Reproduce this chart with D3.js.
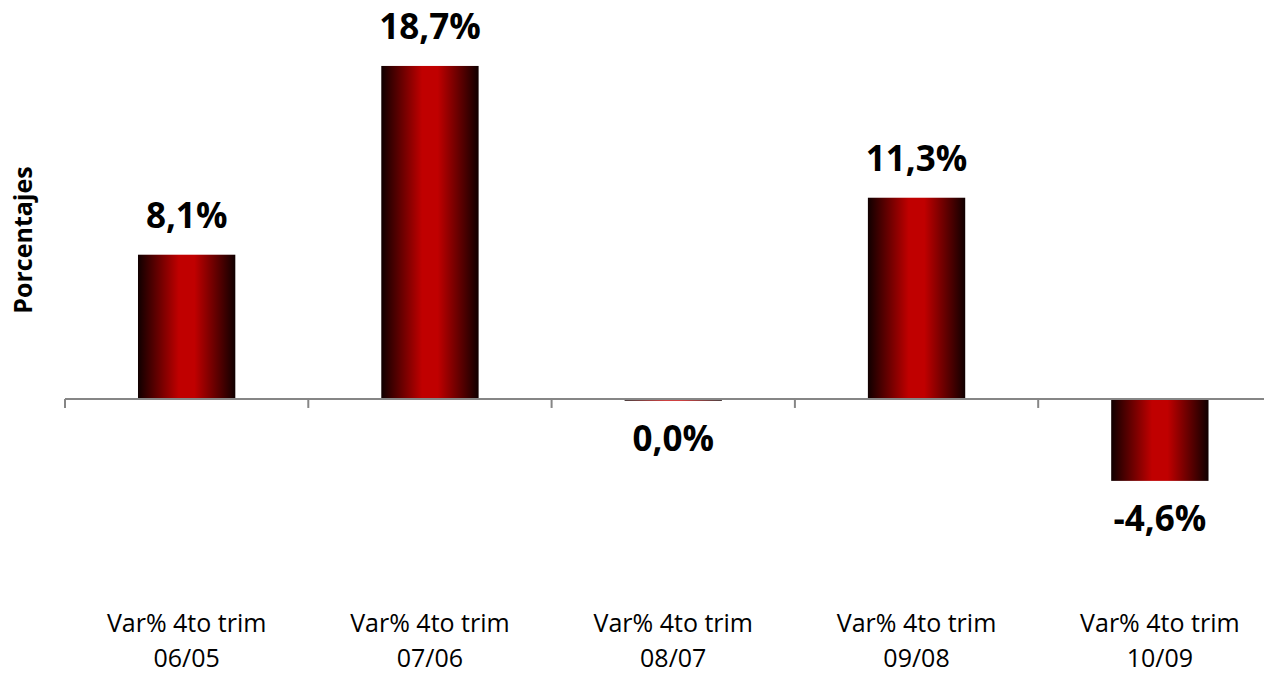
<!DOCTYPE html>
<html>
<head>
<meta charset="utf-8">
<script src="https://cdn.jsdelivr.net/npm/d3@7/dist/d3.min.js"></script>
<style>
  html, body { margin: 0; padding: 0; background: #fff; overflow: hidden; }
  svg { display: block; }
  text { font-family: "Open Sans", "Noto Sans", sans-serif; }
</style>
</head>
<body>
<svg id="chart" width="1264" height="673"></svg>
<script>
const categoriesLine1 = ["Var% 4to trim", "Var% 4to trim", "Var% 4to trim", "Var% 4to trim", "Var% 4to trim"];
const categoriesLine2 = ["06/05", "07/06", "08/07", "09/08", "10/09"];
const values = [8.1, 18.7, -0.1, 11.3, -4.6];
const valueLabels = ["8,1%", "18,7%", "0,0%", "11,3%", "-4,6%"];
const yTitle = "Porcentajes";

const svg = d3.select("#chart");
const keys = categoriesLine2.map((d, i) => i);

const x = d3.scaleBand()
  .domain(keys)
  .range([65, 1281.5])
  .paddingInner(0.6)
  .paddingOuter(0.3);

const y = d3.scaleLinear()
  .domain([-5, 20])
  .range([488, 42.8]);

// gradient
const defs = svg.append("defs");
const grad = defs.append("linearGradient")
  .attr("id", "barGrad")
  .attr("x1", "0%").attr("x2", "100%").attr("y1", "0%").attr("y2", "0%");
[[0, "#100000"], [0.12, "#420000"], [0.42, "#c00000"], [0.58, "#c00000"], [0.88, "#420000"], [1, "#100000"]]
  .forEach(([o, c]) => grad.append("stop").attr("offset", o).attr("stop-color", c));

// bars
svg.append("g").selectAll("rect")
  .data(values)
  .join("rect")
  .attr("x", (d, i) => x(i))
  .attr("width", x.bandwidth())
  .attr("y", d => y(Math.max(0, d)))
  .attr("height", d => Math.abs(y(d) - y(0)))
  .attr("fill", "url(#barGrad)");

// axis line with ticks at category boundaries
const step = x.step();
const boundaries = keys.map(i => x(i) - step * x.paddingInner() / 2).concat([x(keys.length - 1) + x.bandwidth() + step * x.paddingInner() / 2]);
const axisG = svg.append("g");
axisG.append("line")
  .attr("x1", x.range()[0]).attr("x2", x.range()[1])
  .attr("y1", y(0)).attr("y2", y(0))
  .attr("stroke", "#868686").attr("stroke-width", 2);
axisG.selectAll("line.tick")
  .data(boundaries)
  .join("line")
  .attr("class", "tick")
  .attr("x1", d => d).attr("x2", d => d)
  .attr("y1", y(0)).attr("y2", y(0) + 9)
  .attr("stroke", "#868686").attr("stroke-width", 2);

// value labels
svg.append("g").selectAll("text")
  .data(values)
  .join("text")
  .attr("x", (d, i) => x(i) + x.bandwidth() / 2)
  .attr("y", d => d >= 0 ? y(d) - 27 : y(d) + 50)
  .attr("text-anchor", "middle")
  .attr("font-size", 35)
  .attr("font-weight", "bold")
  .attr("fill", "#000")
  .text((d, i) => valueLabels[i]);

// category labels
const catG = svg.append("g").selectAll("text")
  .data(keys)
  .join("text")
  .attr("text-anchor", "middle")
  .attr("font-size", 25)
  .attr("fill", "#000");
catG.append("tspan")
  .attr("x", i => x(i) + x.bandwidth() / 2)
  .attr("y", 632)
  .text(i => categoriesLine1[i]);
catG.append("tspan")
  .attr("x", i => x(i) + x.bandwidth() / 2)
  .attr("y", 667)
  .text(i => categoriesLine2[i]);

// y title
svg.append("text")
  .attr("transform", "translate(32,240) rotate(-90)")
  .attr("text-anchor", "middle")
  .attr("font-size", 25)
  .attr("font-weight", "bold")
  .attr("fill", "#000")
  .text(yTitle);
</script>
</body>
</html>
